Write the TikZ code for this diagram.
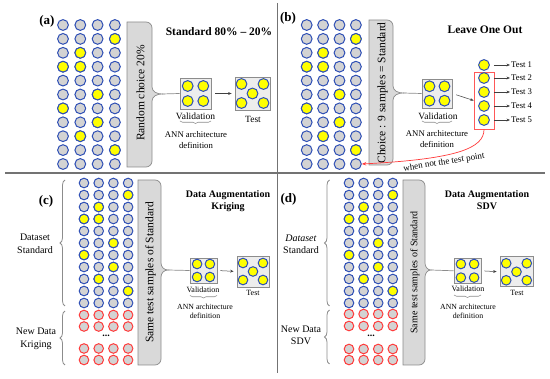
\documentclass[tikz,border=0pt]{standalone}
\usepackage{fontspec}
\setmainfont{Liberation Serif}[BoldFont={Liberation Serif Bold},ItalicFont={Liberation Serif Italic}]
\usetikzlibrary{decorations.pathreplacing,arrows.meta}
\definecolor{cblue}{HTML}{2E4FB5}
\definecolor{cgray}{HTML}{D3D3D3}
\definecolor{cyel}{HTML}{FFFF00}
\definecolor{cred}{HTML}{FF3B3B}
\definecolor{bfill}{HTML}{D9D9D9}
\definecolor{bline}{HTML}{8C8C8C}
\definecolor{divl}{HTML}{737373}
\definecolor{boxfill}{HTML}{EDEDED}
\newcommand\gbrace[6]{%
  \draw[gbr] (#1,#3) -- ({#2-6},#3) to[out=0,in=90] (#2,{#3+6})
    -- (#2,{#5-7}) to[out=-90,in=180] (#6,#5)
    to[out=180,in=90] (#2,{#5+7})
    -- (#2,{#4-6}) to[out=-90,in=0] ({#2-6},#4) -- (#1,#4) -- cycle;
}
\begin{document}
\begin{tikzpicture}[x=1pt,y=-1pt,
  gdot/.style={circle,draw=cblue,fill=cgray,line width=1pt,minimum size=10.8pt,inner sep=0pt},
  ydot/.style={gdot,fill=cyel},
  sdot/.style={gdot,minimum size=9.6pt},
  sydot/.style={sdot,fill=cyel},
  rdot/.style={sdot,draw=cred},
  gbr/.style={draw=bline,fill=bfill,line width=0.7pt},
  gline/.style={draw=bline,line width=0.7pt},
  vbox/.style={draw=bline,fill=boxfill,line width=0.7pt,inner sep=0pt},
  arr/.style={draw=black!75,line width=0.5pt,-{Stealth[length=3.5pt,width=2.8pt]}},
  sbr/.style={decorate,decoration={brace,amplitude=2.5pt},draw=bline,line width=0.6pt},
  lbr/.style={decorate,decoration={brace,amplitude=5pt},draw=bline,line width=0.8pt},
  ttl/.style={font=\bfseries\fontsize{11.5}{13}\selectfont},
  ttls/.style={font=\bfseries\fontsize{10}{12}\selectfont,align=center},
  plab/.style={font=\bfseries\fontsize{13}{15}\selectfont},
  vtxt/.style={rotate=90,font=\fontsize{11.5}{13}\selectfont},
  lab/.style={font=\fontsize{9.5}{11}\selectfont},
  labs/.style={font=\fontsize{8}{9.5}\selectfont},
  ann/.style={font=\fontsize{8.7}{11}\selectfont,align=center},
  anns/.style={font=\fontsize{7.8}{9.5}\selectfont,align=center},
  side/.style={font=\fontsize{10}{12.5}\selectfont,align=center}
]
\useasboundingbox (0,0) rectangle (550,379);
% dividing lines
\draw[divl,line width=1.1pt] (5,173) -- (545,173);
\draw[divl,line width=1.1pt] (277.5,3) -- (277.5,373);

% ================= (a) =================
\node[plab] (la) at (47,21) {(a)};
\node[ttl] (tia) at (219,32) {Standard 80\% – 20\%};
\foreach \r in {0,...,10} \foreach \c in {0,...,3}
  \node[gdot] (a\r-\c) at ({63+17.3*\c},{25+13.9*\r}) {};
\foreach \r/\c in {1/3,2/1,3/0,3/1,5/2,6/0,7/2,8/1,9/3}
  \node[ydot] at (a\r-\c) {};
\gbrace{127}{152}{22}{167}{94}{162}
\coordinate (atip) at (162,94);
\node[vtxt] (ra) at (140.5,93) {Random choice 20\%};
\node[vbox,minimum width=31pt,minimum height=31pt] (va) at (195.5,93.5) {};
\foreach \dx/\dy in {-7.8/-7.5,7.8/-7.5,-7.8/7.5,7.8/7.5}
  \node[ydot] at ([shift={(\dx,\dy)}]va.center) {};
\draw[gline] (atip) -- (va.west);
\node[lab] (vla) at (195.5,116) {Validation};
\draw[sbr] (211,121) -- (180,121);
\node[ann] (ana) at (196,140.5) {ANN architecture\\definition};
\node[vbox,minimum width=35pt,minimum height=33pt] (ta) at (252.5,93.5) {};
\foreach \dx/\dy in {-11/-9.5,11/-9.5,0/0,-11/9.5,11/9.5}
  \node[ydot] at ([shift={(\dx,\dy)}]ta.center) {};
\node[lab] (tla) at (253,119) {Test};
\draw[arr,shorten <=4pt,shorten >=3pt] (va.east) -- (ta.west);

% ================= (b) =================
\node[plab] (lb) at (288,18) {(b)};
\node[ttl] (tib) at (485,30) {Leave One Out};
\foreach \r in {0,...,10} \foreach \c in {0,...,3}
  \node[gdot] (b\r-\c) at ({306.7+16.4*\c},{25+13.9*\r}) {};
\foreach \r/\c in {1/3,2/1,3/0,3/1,5/2,6/0,7/2,8/1,9/3}
  \node[ydot] at (b\r-\c) {};
\gbrace{369}{393}{20}{165}{93}{403}
\coordinate (btip) at (403,93);
\node[vtxt] (rb) at (382.5,93) {Choice : 9 samples = Standard};
\node[vbox,minimum width=30pt,minimum height=29pt] (vb) at (437,93.5) {};
\foreach \dx/\dy in {-7.5/-7.2,7.5/-7.2,-7.5/7.2,7.5/7.2}
  \node[ydot] at ([shift={(\dx,\dy)}]vb.center) {};
\draw[gline] (btip) -- (vb.west);
\node[lab] (vlb) at (438,116) {Validation};
\draw[sbr] (452,121) -- (422,121);
\node[ann] (anb) at (437,139.5) {ANN architecture\\definition};
\node[ydot] (t1) at (484,65) {};
\node[draw=cred!85,line width=0.8pt,minimum width=20pt,minimum height=57pt,inner sep=0pt] (redbox) at (484,100.5) {};
\foreach \i/\y in {2/78,3/92,4/106,5/120}
  \node[ydot] (t\i) at (484,\y) {};
\foreach \i/\y in {1/65,2/78,3/92,4/106,5/120} {
  \node[font=\fontsize{8.7}{10}\selectfont,anchor=west,inner sep=1pt] (tl\i) at (510,\y) {Test \i};
  \draw[arr] ([xshift=4pt]t\i.east) -- (tl\i.west);
}
\draw[arr,shorten <=4pt] (vb.east) -- (redbox.west);
\draw[cred,line width=0.7pt,-{Stealth[length=4.5pt,width=3.5pt]}] (redbox.south) .. controls (484,148) and (458,159) .. (b10-3.east);
\node[font=\fontsize{9}{10}\selectfont,rotate=9] (wn) at (444,162.5) {when not the test point};

% ================= (c) =================
\node[plab] (lc) at (46,201) {(c)};
\node[ttls] (tic) at (228,201) {Data Augmentation\\Kriging};
\foreach \r in {0,...,10} \foreach \c in {0,...,3}
  \node[sdot] (c\r-\c) at ({84+14.7*\c},{183+12*\r}) {};
\foreach \r/\c in {1/3,2/1,3/0,3/1,5/2,6/0,7/2,8/1,9/3}
  \node[sydot] at (c\r-\c) {};
\foreach \r/\y in {0/315,1/326.5,2/348.5,3/360} \foreach \c in {0,...,3}
  \node[rdot] (cr\r-\c) at ({84+14.7*\c},\y) {};
\node[font=\bfseries\fontsize{10}{12}\selectfont] (cdots) at (106,336) {...};
\draw[lbr] (65,306) -- (65,180);
\draw[lbr] (65,365) -- (65,311);
\node[side] (dsc) at (35,244) {Dataset\\Standard};
\node[side] (ndc) at (36,339) {New Data\\Kriging};
\gbrace{138}{161}{180}{365}{270}{168}
\coordinate (ctip) at (168,270);
\node[vtxt] (rc) at (150.5,272.5) {Same test samples of Standard};
\node[vbox,minimum width=27pt,minimum height=25pt] (vc) at (203.5,270.5) {};
\foreach \dx/\dy in {-6.4/-6.5,6.4/-6.5,-6.4/6.5,6.4/6.5}
  \node[sydot] at ([shift={(\dx,\dy)}]vc.center) {};
\draw[gline] (ctip) -- (vc.west);
\node[labs] (vlc) at (203,290) {Validation};
\draw[sbr] (217,295.5) -- (190,295.5);
\node[anns] (anc) at (205,311.5) {ANN architecture\\definition};
\node[vbox,minimum width=32pt,minimum height=31pt] (tc) at (253,271.5) {};
\foreach \dx/\dy in {-10/-8.5,10/-8.5,0/0,-10/8.5,10/8.5}
  \node[sydot] at ([shift={(\dx,\dy)}]tc.center) {};
\node[labs] (tlc) at (253,293) {Test};
\draw[arr,shorten <=3pt,shorten >=3pt] (vc.east) -- (tc.west);

% ================= (d) =================
\node[plab] (ld) at (288.5,199) {(d)};
\node[ttls] (tid) at (487,200) {Data Augmentation\\SDV};
\foreach \r in {0,...,10} \foreach \c in {0,...,3}
  \node[sdot] (d\r-\c) at ({349+14.6*\c},{183+12*\r}) {};
\foreach \r/\c in {1/3,2/1,3/0,3/1,5/2,6/0,7/2,8/1,9/3}
  \node[sydot] at (d\r-\c) {};
\foreach \r/\y in {0/314,1/326,2/349,3/360} \foreach \c in {0,...,3}
  \node[rdot] (dr\r-\c) at ({349+14.6*\c},\y) {};
\node[font=\bfseries\fontsize{10}{12}\selectfont] (ddots) at (371,335.5) {...};
\draw[lbr] (329.5,306) -- (329.5,180);
\draw[lbr] (329.5,364) -- (329.5,310);
\node[side] (dsd) at (301,244.5) {\textit{Dataset}\\Standard};
\node[side] (ndd) at (301,335.5) {New Data\\SDV};
\gbrace{403}{425}{180}{365}{270}{431}
\coordinate (dtip) at (431,270);
\node[vtxt,font=\fontsize{10}{12}\selectfont] (rd) at (415,272.5) {Same test samples of Standard};
\node[vbox,minimum width=27pt,minimum height=25pt] (vd) at (467.5,270.8) {};
\foreach \dx/\dy in {-6.6/-6.8,6.6/-6.8,-6.6/6.8,6.6/6.8}
  \node[sydot] at ([shift={(\dx,\dy)}]vd.center) {};
\draw[gline] (dtip) -- (vd.west);
\node[labs] (vld) at (468,289) {Validation};
\draw[sbr] (481,295) -- (454,295);
\node[anns] (and) at (468,311.5) {ANN architecture\\definition};
\node[vbox,minimum width=33pt,minimum height=30pt] (td) at (516.5,271.8) {};
\foreach \dx/\dy in {-10.3/-8.5,10.3/-8.5,0/0,-10.3/8.5,10.3/8.5}
  \node[sydot] at ([shift={(\dx,\dy)}]td.center) {};
\node[labs] (tld) at (517,293) {Test};
\draw[arr,shorten <=3pt,shorten >=3pt] (vd.east) -- (td.west);
\end{tikzpicture}
\end{document}
